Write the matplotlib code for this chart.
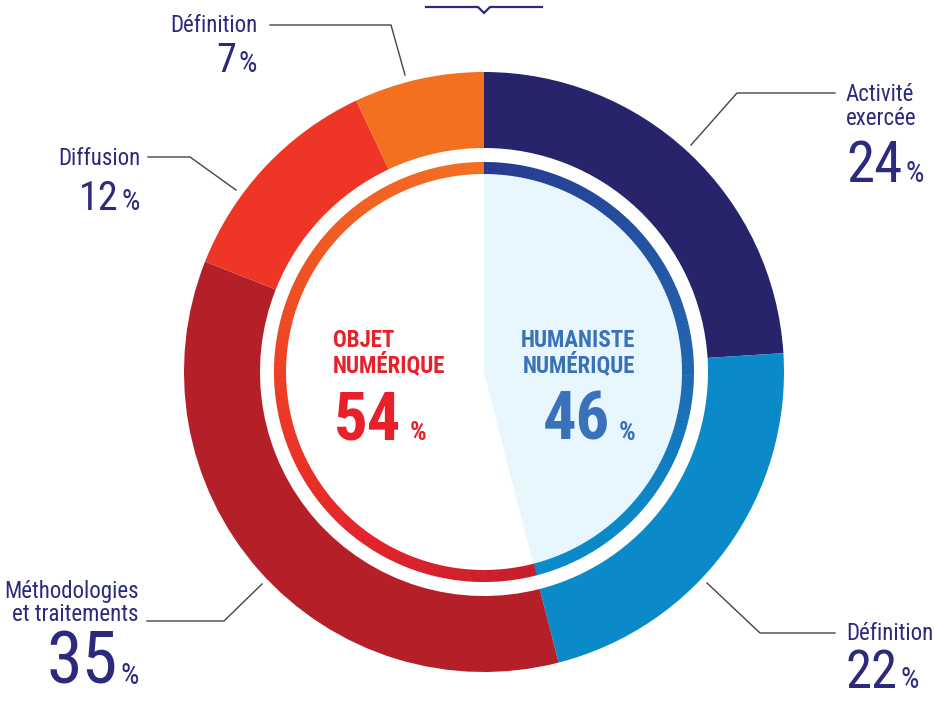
import matplotlib
matplotlib.use("Agg")
import matplotlib.pyplot as plt
from matplotlib import font_manager as fm
from matplotlib.patches import Wedge
from matplotlib.colors import LinearSegmentedColormap
import numpy as np

# ---------------- data ----------------
outer_labels = ["Activité\nexercée", "Définition", "Méthodologies\net traitements", "Diffusion", "Définition"]
outer_values = [24, 22, 35, 12, 7]
outer_colors = ["#27246b", "#0a8ac9", "#b51f27", "#ee3526", "#f37021"]

inner_labels = ["HUMANISTE\nNUMÉRIQUE", "OBJET\nNUMÉRIQUE"]
inner_values = [46, 54]

# ---------------- fonts ----------------
names = {f.name for f in fm.fontManager.ttflist}
FAM, STR = "Liberation Sans", "normal"
for cand in ["Roboto Condensed", "Liberation Sans Narrow", "Open Sans Condensed", "Noto Sans Condensed"]:
    if cand in names:
        FAM, STR = cand, "normal"
        break

W, H = 935, 703
fig = plt.figure(figsize=(W / 100, H / 100), dpi=100)
ax = fig.add_axes([0, 0, 1, 1])

def Y(y):
    return H - y

CX, CY = 484, Y(372)
R_OUT, R_OUT_IN = 300, 224
R_RING_OUT, R_RING_IN = 210, 198

# outer donut
ax.pie(outer_values, colors=outer_colors, startangle=90, counterclock=False,
       radius=R_OUT, center=(CX, CY),
       wedgeprops=dict(width=R_OUT - R_OUT_IN, linewidth=0))

# light fill for humaniste share
ax.pie(inner_values, colors=["#e8f6fd", "none"], startangle=90, counterclock=False,
       radius=R_RING_IN, center=(CX, CY), wedgeprops=dict(linewidth=0))

# gradient thin ring
cmap_blue = LinearSegmentedColormap.from_list(
    "b", [(0, "#26388e"), (0.5, "#2262ae"), (0.8, "#0a88c8"), (1, "#0a8ac9")])
cmap_red = LinearSegmentedColormap.from_list(
    "r", [(0, "#c41e2a"), (0.25, "#e3222b"), (0.5, "#ee3a25"), (0.75, "#f15a22"), (1, "#f37021")])
total = sum(inner_values)
start = 90.0
for val, cmap in zip(inner_values, [cmap_blue, cmap_red]):
    span = 360.0 * val / total
    n = 160
    for i in range(n):
        a1 = start - span * i / n
        a2 = start - span * (i + 1) / n
        c = cmap((i + 0.5) / n)
        ax.add_patch(Wedge((CX, CY), R_RING_OUT, a2, a1 + 0.15, width=R_RING_OUT - R_RING_IN,
                           facecolor=c, edgecolor="none", linewidth=0))
    start -= span

NAVY = "#2b2a7c"
LINE = "#444444"

# top marker
ax.plot([426, 478, 484, 490, 542], [Y(7), Y(7), Y(13), Y(7), Y(7)], color=NAVY, lw=1.6,
        solid_joinstyle="miter")

# leader lines
leaders = [
    [(835, 93), (737, 93), (691, 145)],
    [(835, 633), (760, 633), (707, 583)],
    [(147, 621), (224, 621), (262, 584)],
    [(148, 157), (190, 157), (236, 190)],
    [(270, 25), (391, 25), (405, 75)],
]
for pts in leaders:
    ax.plot([p[0] for p in pts], [Y(p[1]) for p in pts], color=LINE, lw=1.0)

fig.canvas.draw()
renderer = fig.canvas.get_renderer()

def width_of(t):
    bb = t.get_window_extent(renderer=renderer)
    return bb.width

def txt(x, y, s, size, color=NAVY, ha="left", weight="normal", va="baseline", ls=1.0):
    return ax.text(x, Y(y), s, fontsize=size, color=color, ha=ha, va=va,
                   family=FAM, fontstretch=STR, fontweight=weight, linespacing=ls)

def number(x, y, val, size, side, pct_size=21, gap=3, color=NAVY, weight="normal"):
    s = f"{val}"
    if side == "left":
        t = txt(x, y, s, size, color=color, ha="left", weight=weight)
        w = width_of(t)
        txt(x + w + gap, y, "%", pct_size, color=color, ha="left", weight=weight)
    else:
        p = txt(x, y, "%", pct_size, color=color, ha="right", weight=weight)
        w = width_of(p)
        txt(x - w - gap, y, s, size, color=color, ha="right", weight=weight)

LBL = 16.5
# label layout: (label x, label baselines, align, number baseline, number size)
layout = [
    (846, [101, 125], "left", 182, 41),
    (846, [640], "left", 688, 38),
    (139, [598, 621], "right", 684, 52),
    (140, [165], "right", 210, 29),
    (257, [32], "right", 72, 29),
]
for lab, val, (lx, bls, side, nb, ns) in zip(outer_labels, outer_values, layout):
    for line, bl in zip(lab.split("\n"), bls):
        txt(lx, bl, line, LBL, ha=side)
    number(lx, nb, val, ns, "left" if side == "left" else "right")

# center texts
RED_T = "#e8202a"
BLUE_T = "#3a72b9"
for line, bl in zip(inner_labels[1].split("\n"), [347, 372]):
    txt(333, bl, line, 16.5, color=RED_T, weight="bold")
number(334, 440, inner_values[1], 48, "left", pct_size=19, gap=8, color=RED_T, weight="bold")
for line, bl in zip(inner_labels[0].split("\n"), [347, 372]):
    txt(635, bl, line, 16.5, color=BLUE_T, weight="bold", ha="right")
number(635, 440, inner_values[0], 48, "right", pct_size=19, gap=8, color=BLUE_T, weight="bold")

ax.set_xlim(0, W)
ax.set_ylim(0, H)
ax.set_aspect("equal")
ax.axis("off")
fig.savefig("out.png", dpi=100)
